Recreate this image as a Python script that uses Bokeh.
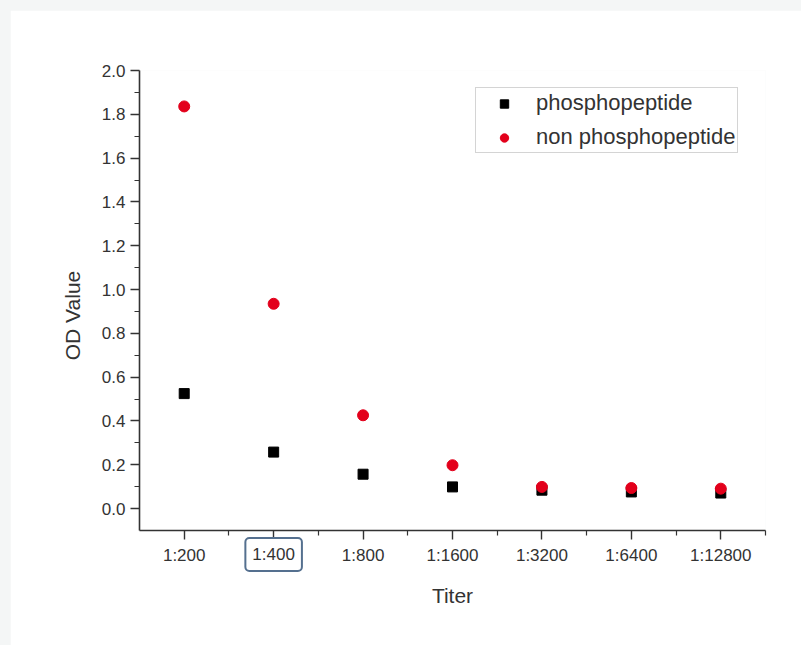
import math
from bokeh.plotting import figure
from bokeh.models import FixedTicker, Legend, LegendItem, Label, Range1d
from bokeh.layouts import column
from bokeh.embed import file_html
from bokeh.resources import INLINE

# ---- data ----
titers = ["1:200", "1:400", "1:800", "1:1600", "1:3200", "1:6400", "1:12800"]
phospho = [0.525, 0.258, 0.157, 0.099, 0.084, 0.076, 0.071]
non_phospho = [1.836, 0.935, 0.426, 0.198, 0.099, 0.094, 0.091]
y_major = [0.0, 0.2, 0.4, 0.6, 0.8, 1.0, 1.2, 1.4, 1.6, 1.8, 2.0]
y_minor = [0.1, 0.3, 0.5, 0.7, 0.9, 1.1, 1.3, 1.5, 1.7, 1.9]
highlighted = "1:400"

xpos = list(range(1, len(titers) + 1))
x_minor = [i + 0.5 for i in xpos]

FONT = "Liberation Sans"
AX = "#333333"

p = figure(width=791, height=635, output_backend="svg", toolbar_location=None,
           x_range=Range1d(0.5, len(titers) + 0.5), y_range=Range1d(-0.1, 2.0),
           min_border_left=129, min_border_right=36, min_border_top=60,
           min_border_bottom=115)
p.margin = (10, 0, 0, 10)
p.outline_line_color = None
p.xgrid.grid_line_color = None
p.ygrid.grid_line_color = None
p.background_fill_color = "white"
p.border_fill_color = "white"

r1 = p.scatter(xpos, phospho, marker="square", size=10, color="black")
r2 = p.scatter(xpos, non_phospho, marker="circle", size=11, color="#e3001b")

# axes
xa = p.xaxis[0]
xa.ticker = FixedTicker(ticks=xpos, minor_ticks=x_minor)
xa.major_label_overrides = {i: ("" if t == highlighted else t) for i, t in zip(xpos, titers)}
ya = p.yaxis[0]
ya.ticker = FixedTicker(ticks=y_major, minor_ticks=y_minor)
ya.major_label_overrides = {v: f"{v:.1f}" for v in y_major}

for ax in (xa, ya):
    ax.axis_line_color = AX
    ax.axis_line_width = 1.6
    ax.major_tick_line_color = AX
    ax.minor_tick_line_color = AX
    ax.major_tick_line_width = 1.4
    ax.minor_tick_line_width = 1.2
    ax.major_tick_in = 0
    ax.major_tick_out = 9
    ax.minor_tick_in = 0
    ax.minor_tick_out = 5
    ax.major_label_text_font = FONT
    ax.major_label_text_font_size = "17px"
    ax.major_label_text_color = "#333333"
    ax.axis_label_text_font = FONT
    ax.axis_label_text_font_size = "21px"
    ax.axis_label_text_font_style = "normal"
    ax.axis_label_text_color = "#333333"

xa.axis_label = "Titer"
xa.major_label_standoff = 6
xa.axis_label_standoff = 16
ya.major_label_standoff = 5

# y-axis title, in the left panel, placed to match the original
p.add_layout(Label(x=-3, y=215, x_units="screen", y_units="screen",
                   text="OD Value", angle=math.pi / 2, text_align="center",
                   text_baseline="middle", text_font=FONT, text_font_size="21px",
                   text_color="#333333"), "left")

# highlighted tick label with a box (placed in the panel below the frame)
hi = titers.index(highlighted)
p.add_layout(Label(x=xpos[hi], y=88, x_units="data", y_units="screen",
                   text=highlighted, text_align="center",
                   text_baseline="middle", text_font=FONT, text_font_size="17px",
                   text_color="#333333", border_line_color="#55708f",
                   border_line_width=2, background_fill_color="white",
                   padding=7, border_radius=4), "below")

legend = Legend(items=[LegendItem(label="phosphopeptide", renderers=[r1]),
                       LegendItem(label="non phosphopeptide", renderers=[r2])],
                location=(336, 377), padding=2, spacing=8, glyph_width=52,
                glyph_height=21, label_height=21, label_standoff=6, margin=0,
                label_text_font=FONT, label_text_font_size="22px",
                label_text_color="#333333", border_line_color="#aaaaaa",
                border_line_width=1, background_fill_color="white")
p.add_layout(legend, "center")

layout = column(p, styles={"background-color": "#f4f6f6"})
open("out.html", "w").write(file_html(layout, INLINE))
